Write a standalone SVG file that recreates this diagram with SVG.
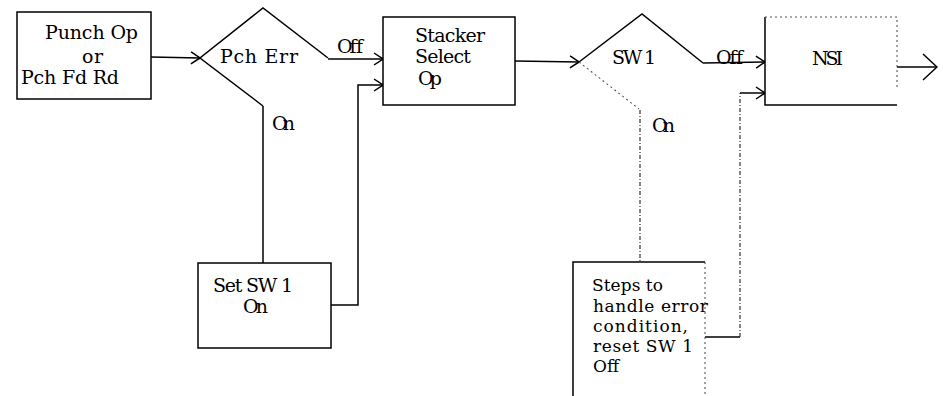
<svg xmlns="http://www.w3.org/2000/svg" width="943" height="396" viewBox="0 0 943 396">
<style>
text{font-family:"DejaVu Serif","Liberation Serif",serif;font-size:19px;fill:#000}
#steps text{font-size:17px}
.s{fill:none;stroke:#000;stroke-width:1.5}
.d{fill:none;stroke:#333;stroke-width:1.2;stroke-dasharray:4 2 1 2}
.dt{fill:none;stroke:#555;stroke-width:1.1;stroke-dasharray:2 3}
</style>
<defs>
<marker id="ah" viewBox="0 0 10 14" refX="10" refY="7" markerWidth="10" markerHeight="14" markerUnits="userSpaceOnUse" orient="auto">
<path d="M1,1 L10,7 L1,13" fill="none" stroke="#000" stroke-width="1.5"/>
</marker>
<marker id="ahL" viewBox="0 0 16 28" refX="15" refY="14" markerWidth="16" markerHeight="28" markerUnits="userSpaceOnUse" orient="auto">
<path d="M1,1 L15,14 L1,27" fill="none" stroke="#000" stroke-width="1.5"/>
</marker>
</defs>
<g id="connectors">
<path class="s" d="M151,57 L200,58" marker-end="url(#ah)"/>
<path class="s" d="M328,59 L383,59" marker-end="url(#ah)"/>
<text x="337" y="53" textLength="26">Off</text>
<path class="s" d="M263,106 L263,263"/>
<text x="272" y="130" textLength="23">On</text>
<path class="s" d="M331,305 L358,305 L358,85 L383,85" marker-end="url(#ah)"/>
<path class="s" d="M515,61 L579,62" marker-end="url(#ah)"/>
<path class="s" d="M703,63 L765,62" marker-end="url(#ah)"/>
<text x="716" y="64" textLength="27">Off</text>
<path class="d" d="M640,110 L640,262"/>
<text x="652" y="132" textLength="23">On</text>
<path class="s" d="M705,337 L740,337"/>
<path class="d" d="M740,337 L740,93"/>
<path class="s" d="M740,93 L765,93" marker-end="url(#ah)"/>
<path class="s" d="M897,67 L937,67" marker-end="url(#ahL)"/>
</g>
<g id="punch">
<rect class="s" x="17" y="12" width="134" height="87"/>
<text x="45" y="39" textLength="93">Punch Op</text>
<text x="82" y="63" textLength="21">or</text>
<text x="21" y="84" textLength="98">Pch Fd Rd</text>
</g>
<g id="pcherr">
<path class="s" d="M263,106 L200,58 L263,8 L328,58"/>
<text x="220" y="63" textLength="78">Pch Err</text>
</g>
<g id="stacker">
<rect class="s" x="383" y="17" width="132" height="88"/>
<text x="415" y="42" textLength="70">Stacker</text>
<text x="415" y="63" textLength="56">Select</text>
<text x="418" y="85" textLength="24">Op</text>
</g>
<g id="setsw1">
<rect class="s" x="198" y="263" width="133" height="85"/>
<text x="213" y="292" textLength="80">Set SW 1</text>
<text x="243" y="313" textLength="25">On</text>
</g>
<g id="sw1">
<path class="s" d="M579,62 L642,14 L703,63"/>
<path class="dt" d="M579,62 L639,109"/>
<text x="612" y="64" textLength="44">SW 1</text>
</g>
<g id="nsi">
<path class="s" d="M765,17 L765,105 L897,105"/>
<path class="dt" d="M765,17 L897,17 L897,90"/>
<text x="812" y="65" textLength="31">NSI</text>
</g>
<g id="steps">
<path class="s" d="M573,396 L573,262 L705,262"/>
<path class="dt" d="M705,262 L705,396"/>
<text x="592" y="291" textLength="71">Steps to</text>
<text x="593" y="312" textLength="115">handle error</text>
<text x="593" y="332" textLength="95">condition,</text>
<text x="593" y="352" textLength="100">reset SW 1</text>
<text x="593" y="372" textLength="26">Off</text>
</g>
</svg>
